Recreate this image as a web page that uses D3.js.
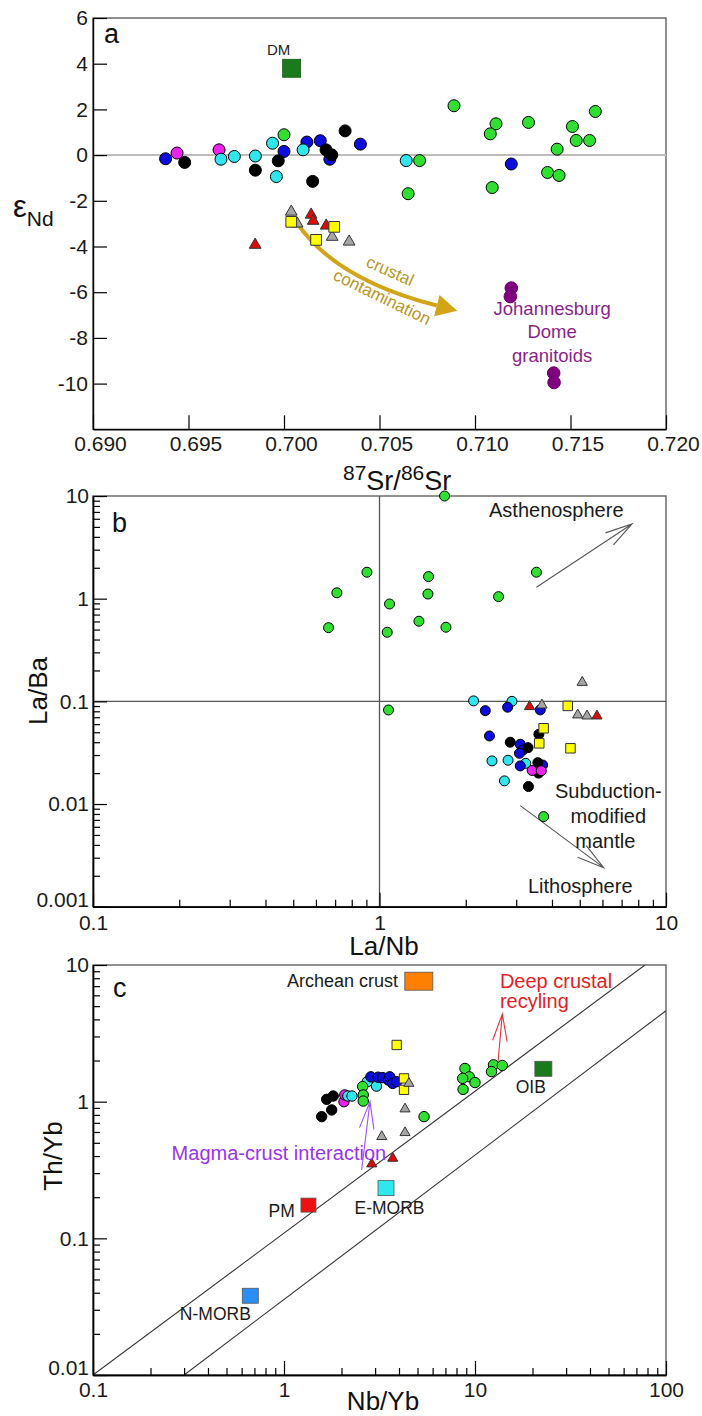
<!DOCTYPE html>
<html><head><meta charset="utf-8">
<script src="https://cdn.jsdelivr.net/npm/d3@7"></script>
<style>body{margin:0;background:#fff} svg{display:block}</style>
</head><body><svg id="c" width="702" height="1416"></svg>
<script>
// ---------- Panel a data: [87Sr/86Sr, eNd] ----------
const aXTicks = [0.690,0.695,0.700,0.705,0.710,0.715,0.720];
const aYTicks = [-10,-8,-6,-4,-2,0,2,4,6];
const aBlue = [[0.6938,-0.16],[0.7000,0.16],[0.7012,0.57],[0.7019,0.63],[0.7024,-0.18],[0.7040,0.48],[0.7119,-0.39]];
const aMagenta = [[0.6944,0.09],[0.6966,0.23]];
const aBlack = [[0.6948,-0.32],[0.6985,-0.66],[0.6997,-0.25],[0.7015,-1.15],[0.7022,0.23],[0.7025,0.01],[0.7032,1.06]];
const aCyan = [[0.6967,-0.18],[0.6974,-0.06],[0.6985,-0.04],[0.6994,0.52],[0.6996,-0.94],[0.7010,0.23],[0.7064,-0.24]];
const aGreen = [[0.7000,0.89],[0.7071,-0.24],[0.7065,-1.69],[0.7089,2.16],[0.7111,1.37],[0.7108,0.93],[0.7128,1.43],[0.7109,-1.42],[0.7151,1.25],[0.7163,1.91],[0.7153,0.64],[0.7160,0.64],[0.7143,0.26],[0.7138,-0.76],[0.7144,-0.89]];
const aRed = [[0.69849,-3.93],[0.70142,-2.61],[0.70153,-2.88],[0.70221,-3.09]];
const aGray = [[0.70038,-2.48],[0.70069,-3.0],[0.70252,-3.58],[0.70341,-3.79]];
const aYellow = [[0.70038,-2.92],[0.70263,-3.14],[0.70168,-3.71]];
const aJD = [[0.71190,-5.82],[0.71185,-6.19],[0.71412,-9.54],[0.71414,-9.95]];
const aDM = [[0.7004,3.8]];
const aArrow = [[0.70064,-2.92],[0.70268,-5.46],[0.70907,-6.81]]; // start, control, tip

// ---------- Panel b data: [La/Nb, La/Ba] ----------
const bXTicks = [0.1,1,10];
const bYTicks = [0.001,0.01,0.1,1,10];
const bGreen = [[0.664,0.522],[0.710,1.14],[0.904,1.81],[1.064,0.471],[1.084,0.888],[1.075,0.0824],[1.373,0.603],[1.476,1.11],[1.483,1.64],[1.687,10],[1.706,0.527],[2.604,1.046],[3.53,1.81],[3.74,0.00754]];
const bCyan = [[2.13,0.101],[2.90,0.100],[2.47,0.0263],[2.81,0.0267],[3.24,0.0249],[2.73,0.0168]];
const bBlue = [[2.34,0.0812],[2.80,0.0877],[3.64,0.0826],[2.42,0.046],[3.10,0.0382],[3.17,0.0336],[3.08,0.0312],[3.10,0.0235],[3.71,0.024]];
const bBlack = [[3.60,0.0478],[2.86,0.040],[3.30,0.0354],[3.57,0.0253],[3.59,0.020],[3.31,0.0148]];
const bMagenta = [[3.41,0.0212],[3.67,0.0211]];
const bRed = [[3.34,0.0888],[5.74,0.072]];
const bGray = [[3.69,0.092],[4.92,0.0737],[5.30,0.072],[5.10,0.153]];
const bYellow = [[4.54,0.0903],[3.74,0.0547],[3.61,0.039],[4.64,0.0349]];
const bAstheno = [[3.53,1.29],[7.61,5.34]];
const bLitho = [[3.10,0.00965],[6.06,0.0024]];

// ---------- Panel c data: [Nb/Yb, Th/Yb] ----------
const cXTicks = [0.1,1,10,100];
const cYTicks = [0.01,0.1,1,10];
const cBlack = [[1.575,0.777],[1.777,0.870],[1.673,1.041],[1.81,1.10]];
const cMagenta = [[2.06,1.0],[2.08,1.12]];
const cCyan = [[2.16,1.10],[2.27,1.10],[2.73,1.40],[3.05,1.30]];
const cGreen = [[2.58,1.29],[2.60,1.12],[2.60,1.01],[5.41,0.777],[8.86,1.75],[9.33,1.52],[8.62,1.48],[10.0,1.38],[8.66,1.23],[12.5,1.86],[13.9,1.84],[12.2,1.66]];
const cBlue = [[2.85,1.52],[3.11,1.51],[3.29,1.50],[3.52,1.44],[3.58,1.52],[3.71,1.36],[3.89,1.40]];
const cYellow = [[3.89,2.60],[4.25,1.48],[4.25,1.22]];
const cGray = [[4.51,1.36],[4.30,0.884],[3.25,0.555],[4.30,0.593]];
const cRed = [[2.88,0.350],[3.71,0.385]];
const cRefNames = ["N-MORB","PM","E-MORB","OIB","Archean crust"];
const cRefValues = [[0.666,0.038],[1.343,0.175],[3.42,0.233],[22.8,1.74],[5.08,7.61]];
const cLine1 = [[0.1,0.01],[77.6,10]];
const cLine2 = [[0.3,0.01],[100,4.63]];
const cRecycle = [[13.2,1.96],[13.9,4.38]];
const cMagmaArrow = [[2.55,0.316],[2.82,1.0]];

// ---------- drawing ----------
const FONT = 'Arial, "Liberation Sans", Helvetica, sans-serif';
const svg = d3.select("#c");
svg.append("rect").attr("width",702).attr("height",1416).attr("fill","#fff");
const L = 93, R = 666;
const COL = {green:"#30e030", blue:"#0c0cdc", cyan:"#30e6ee", magenta:"#ee22ee", black:"#000",
  red:"#dd0a0a", gray:"#a6a6a6", yellow:"#ffff00"};

function frame(x0,y0,x1,y1){
  svg.append("rect").attr("x",x0).attr("y",y0).attr("width",x1-x0).attr("height",y1-y0)
    .attr("fill","none").attr("stroke","#555").attr("stroke-width",1.3);
}
function styleAxis(g){
  g.select(".domain").attr("stroke","#000").attr("stroke-width",1.4);
  g.selectAll(".tick line").attr("stroke","#000").attr("stroke-width",1.2);
  g.selectAll(".tick text").attr("font-size",21).attr("font-family",FONT).attr("fill","#1a1a1a");
}
function dots(data, xs, ys, r, fill, stroke="#000"){
  svg.append("g").selectAll("circle").data(data).join("circle")
    .attr("cx",d=>xs(d[0])).attr("cy",d=>ys(d[1])).attr("r",r)
    .attr("fill",fill).attr("stroke",stroke).attr("stroke-width",1);
}
function syms(data, xs, ys, type, size, fill, stroke){
  svg.append("g").selectAll("path").data(data).join("path")
    .attr("transform",d=>`translate(${xs(d[0])},${ys(d[1])})`)
    .attr("d",d3.symbol(type,size)).attr("fill",fill).attr("stroke",stroke).attr("stroke-width",1);
}
function arrow(p0,p1,color,w=1){
  const [x0,y0]=p0,[x1,y1]=p1;
  const a = Math.atan2(y0-y1,x0-x1), len=28, h=15*Math.PI/180;
  svg.append("path").attr("d",`M${x0},${y0}L${x1},${y1}M${x1+len*Math.cos(a+h)},${y1+len*Math.sin(a+h)}L${x1},${y1}L${x1+len*Math.cos(a-h)},${y1+len*Math.sin(a-h)}`)
    .attr("fill","none").attr("stroke",color).attr("stroke-width",w);
}
function txt(x,y,s,size,fill="#1a1a1a",anchor="start"){
  return svg.append("text").attr("x",x).attr("y",y).text(s).attr("font-size",size)
    .attr("font-family",FONT).attr("fill",fill).attr("text-anchor",anchor);
}
function minorTicks(domain){
  const out=[]; const lo=Math.round(Math.log10(domain[0])), hi=Math.round(Math.log10(domain[1]));
  for(let k=lo;k<hi;k++) for(let m=2;m<=9;m++) out.push(m*Math.pow(10,k));
  return out;
}
// lift the lowest y label a little so it does not collide with the first x label
function liftBottom(g, v){
  g.selectAll(".tick").filter(d=>d===v).select("text").attr("dy","-0.02em");
}

// ===== Panel a =====
const aTop=18, aBot=429.3;
const ax = d3.scaleLinear().domain([0.690,0.720]).range([L,R]);
const ay = d3.scaleLinear().domain([-12,6]).range([aBot,aTop]);
frame(L,aTop,R,aBot);
svg.append("line").attr("x1",ax(0.690)).attr("x2",ax(0.720)).attr("y1",ay(0)).attr("y2",ay(0))
  .attr("stroke","#bdbdbd").attr("stroke-width",2);
let g = svg.append("g").attr("transform",`translate(0,${aBot})`)
  .call(d3.axisBottom(ax).tickValues(aXTicks).tickSize(-14).tickSizeOuter(0).tickPadding(7).tickFormat(d3.format(".3f")));
styleAxis(g); g.selectAll(".tick text").attr("dx",7);
g = svg.append("g").attr("transform",`translate(${L},0)`)
  .call(d3.axisLeft(ay).tickValues(aYTicks).tickSize(-14).tickSizeOuter(0).tickPadding(5).tickFormat(d=>String(d)));
styleAxis(g);

// gold crustal contamination arrow
{
  const P0=[ax(aArrow[0][0]),ay(aArrow[0][1])], C=[ax(aArrow[1][0]),ay(aArrow[1][1])], T=[ax(aArrow[2][0]),ay(aArrow[2][1])];
  const dx=T[0]-C[0], dy=T[1]-C[1], n=Math.hypot(dx,dy), ux=dx/n, uy=dy/n;
  const B=[T[0]-21*ux,T[1]-21*uy], px=-uy, py=ux;
  svg.append("path").attr("d",`M${P0[0]},${P0[1]}Q${C[0]},${C[1]} ${B[0]},${B[1]}`)
    .attr("fill","none").attr("stroke","#d4a417").attr("stroke-width",4);
  svg.append("path").attr("d",`M${T[0]},${T[1]}L${B[0]+11*px},${B[1]+11*py}L${B[0]-11*px},${B[1]-11*py}Z`)
    .attr("fill","#d4a417");
}
txt(ax(0.70556),ay(-5.06),"crustal",17,"#b8961e","middle").attr("dy","0.35em")
  .attr("transform",`rotate(24,${ax(0.70556)},${ay(-5.06)})`);
txt(ax(0.70514),ay(-6.20),"contamination",17,"#b8961e","middle").attr("dy","0.35em")
  .attr("transform",`rotate(26,${ax(0.70514)},${ay(-6.20)})`);

dots(aBlue,ax,ay,6,COL.blue);
dots(aMagenta,ax,ay,6,COL.magenta);
dots(aBlack,ax,ay,6,COL.black);
dots(aCyan,ax,ay,6,COL.cyan);
dots(aGreen,ax,ay,6,COL.green);
dots(aJD,ax,ay,6.3,"#800080","#6a006a");
syms(aGray,ax,ay,d3.symbolTriangle,60,COL.gray,"#333");
syms(aRed,ax,ay,d3.symbolTriangle,60,COL.red,"#333");
syms(aYellow,ax,ay,d3.symbolSquare,115,COL.yellow,"#333");
svg.append("g").selectAll("rect").data(aDM).join("rect")
  .attr("x",d=>ax(d[0])-9).attr("y",d=>ay(d[1])-9).attr("width",18).attr("height",18)
  .attr("fill","#1b7a1b").attr("stroke","#145c14").attr("stroke-width",0.8);
txt(ax(0.69972),ay(4.39),"DM",15,"#222","middle");
{
  const jx=ax(0.71404), jy=ay(-6.98);
  txt(jx,jy,"Johannesburg",18.5,"#8a1f8a","middle");
  txt(jx,jy+23.5,"Dome",18.5,"#8a1f8a","middle");
  txt(jx,jy+47,"granitoids",18.5,"#8a1f8a","middle");
}
txt(104,43,"a",27,"#111");
// axis titles a
{
  const t = svg.append("text").attr("x",13).attr("y",217).attr("font-family",FONT).attr("fill","#111");
  t.append("tspan").text("ε").attr("font-size",31);
  t.append("tspan").text("Nd").attr("font-size",21).attr("dy",9);
  const s = svg.append("text").attr("x",343).attr("y",490).attr("font-family",FONT).attr("fill","#111");
  s.append("tspan").text("87").attr("font-size",21).attr("dy",-10);
  s.append("tspan").text("Sr/").attr("font-size",27).attr("dy",10);
  s.append("tspan").text("86").attr("font-size",21).attr("dy",-10);
  s.append("tspan").text("Sr").attr("font-size",27).attr("dy",10);
}

// ===== Panel b =====
const bTop=496, bBot=906.7;
const bx = d3.scaleLog().domain([0.1,10]).range([L,R]);
const by = d3.scaleLog().domain([0.001,10]).range([bBot,bTop]);
frame(L,bTop,R,bBot);
svg.append("line").attr("x1",bx(1)).attr("x2",bx(1)).attr("y1",bTop).attr("y2",bBot).attr("stroke","#555").attr("stroke-width",1.3);
svg.append("line").attr("x1",L).attr("x2",R).attr("y1",by(0.1)).attr("y2",by(0.1)).attr("stroke","#555").attr("stroke-width",1.3);
g = svg.append("g").attr("transform",`translate(0,${bBot})`)
  .call(d3.axisBottom(bx).tickValues(minorTicks(bx.domain())).tickSize(-7).tickSizeOuter(0).tickFormat(""));
styleAxis(g);
g = svg.append("g").attr("transform",`translate(0,${bBot})`)
  .call(d3.axisBottom(bx).tickValues(bXTicks).tickSize(-14).tickSizeOuter(0).tickPadding(8).tickFormat(d=>String(d)));
styleAxis(g);
g = svg.append("g").attr("transform",`translate(${L},0)`)
  .call(d3.axisLeft(by).tickValues(minorTicks(by.domain())).tickSize(-7).tickSizeOuter(0).tickFormat(""));
styleAxis(g);
g = svg.append("g").attr("transform",`translate(${L},0)`)
  .call(d3.axisLeft(by).tickValues(bYTicks).tickSize(-14).tickSizeOuter(0).tickPadding(4).tickFormat(d=>String(d)));
styleAxis(g); liftBottom(g,0.001);

arrow([bx(bAstheno[0][0]),by(bAstheno[0][1])],[bx(bAstheno[1][0]),by(bAstheno[1][1])],"#555",1.1);
arrow([bx(bLitho[0][0]),by(bLitho[0][1])],[bx(bLitho[1][0]),by(bLitho[1][1])],"#555",1.1);

dots(bGreen,bx,by,5,COL.green);
dots(bCyan,bx,by,5,COL.cyan);
dots(bBlue,bx,by,5,COL.blue);
dots(bBlack,bx,by,5,COL.black);
dots(bMagenta,bx,by,5,COL.magenta);
syms(bYellow,bx,by,d3.symbolSquare,90,COL.yellow,"#333");
syms(bGray,bx,by,d3.symbolTriangle,46,COL.gray,"#333");
syms(bRed,bx,by,d3.symbolTriangle,46,COL.red,"#333");

txt(bx(4.14),by(6.29),"Asthenosphere",20,"#1a1a1a","middle");
{
  const sx=bx(6.29), sy=by(0.01154);
  txt(sx,sy,"Subduction-",20,"#1a1a1a","middle");
  txt(sx,sy+25,"modified",20,"#1a1a1a","middle");
  txt(sx-3,sy+50,"mantle",20,"#1a1a1a","middle");
}
txt(bx(5.02),by(0.00136),"Lithosphere",20,"#1a1a1a","middle");
txt(112,532,"b",27,"#111");
txt(384,955,"La/Nb",26,"#111","middle");
txt(0,0,"La/Ba",26,"#111","middle").attr("transform","translate(47,691) rotate(-90)");

// ===== Panel c =====
const cTop=965, cBot=1375;
const cx = d3.scaleLog().domain([0.1,100]).range([L,R]);
const cy = d3.scaleLog().domain([0.01,10]).range([cBot,cTop]);
frame(L,cTop,R,cBot);
svg.append("defs").append("clipPath").attr("id","clipc").append("rect")
  .attr("x",L).attr("y",cTop).attr("width",R-L).attr("height",cBot-cTop);
const line = d3.line().x(d=>cx(d[0])).y(d=>cy(d[1]));
[cLine1,cLine2].forEach(l=>svg.append("path").attr("d",line(l)).attr("clip-path","url(#clipc)")
  .attr("fill","none").attr("stroke","#333").attr("stroke-width",1.1));
g = svg.append("g").attr("transform",`translate(0,${cBot})`)
  .call(d3.axisBottom(cx).tickValues(minorTicks(cx.domain())).tickSize(-7).tickSizeOuter(0).tickFormat(""));
styleAxis(g);
g = svg.append("g").attr("transform",`translate(0,${cBot})`)
  .call(d3.axisBottom(cx).tickValues(cXTicks).tickSize(-14).tickSizeOuter(0).tickPadding(7).tickFormat(d=>String(d)));
styleAxis(g);
g = svg.append("g").attr("transform",`translate(${L},0)`)
  .call(d3.axisLeft(cy).tickValues(minorTicks(cy.domain())).tickSize(-7).tickSizeOuter(0).tickFormat(""));
styleAxis(g);
g = svg.append("g").attr("transform",`translate(${L},0)`)
  .call(d3.axisLeft(cy).tickValues(cYTicks).tickSize(-14).tickSizeOuter(0).tickPadding(4).tickFormat(d=>String(d)));
styleAxis(g); liftBottom(g,0.01);

arrow([cx(cRecycle[0][0]),cy(cRecycle[0][1])],[cx(cRecycle[1][0]),cy(cRecycle[1][1])],"#e8323a",1.1);
arrow([cx(cMagmaArrow[0][0]),cy(cMagmaArrow[0][1])],[cx(cMagmaArrow[1][0]),cy(cMagmaArrow[1][1])],"#a050ff",1.1);

dots(cBlack,cx,cy,5.2,COL.black);
dots(cMagenta,cx,cy,5.2,COL.magenta);
dots(cCyan,cx,cy,5.2,COL.cyan);
dots(cGreen,cx,cy,5.2,COL.green);
dots(cBlue,cx,cy,5.2,COL.blue);
syms(cYellow,cx,cy,d3.symbolSquare,87,COL.yellow,"#333");
syms(cGray,cx,cy,d3.symbolTriangle,44,COL.gray,"#333");
syms(cRed,cx,cy,d3.symbolTriangle,44,COL.red,"#333");

const refFill = ["#2a8ef5","#ee1111","#2ee8ee","#1b7a1b","#ff8000"];
const refW = [16,15,16,17,28], refH = [15,14,15,15,18];
svg.append("g").selectAll("rect").data(cRefValues).join("rect")
  .attr("x",(d,i)=>cx(d[0])-refW[i]/2).attr("y",(d,i)=>cy(d[1])-refH[i]/2)
  .attr("width",(d,i)=>refW[i]).attr("height",(d,i)=>refH[i])
  .attr("fill",(d,i)=>refFill[i]).attr("stroke","#555").attr("stroke-width",0.8);
txt(cx(0.437),cy(0.0253),cRefNames[0],17.5,"#1a1a1a","middle");
txt(cx(1.14),cy(0.1426),cRefNames[1],17.5,"#1a1a1a","end");
txt(cx(3.57),cy(0.151),cRefNames[2],17.5,"#1a1a1a","middle");
txt(cx(19.6),cy(1.16),cRefNames[3],17.5,"#1a1a1a","middle");
txt(cx(3.95),cy(6.90),cRefNames[4],18,"#1a1a1a","end");
txt(cx(13.5),cy(6.75),"Deep crustal",20,"#e41e26","start");
txt(cx(13.5),cy(6.75)+20,"recyling",20,"#e41e26","start");
txt(cx(0.258),cy(0.3746),"Magma-crust interaction",20,"#9933ee","start");
txt(113,997,"c",27,"#111");
txt(383,1410,"Nb/Yb",26,"#111","middle");
txt(0,0,"Th/Yb",26,"#111","middle").attr("transform","translate(62,1156) rotate(-90)");
</script></body></html>
